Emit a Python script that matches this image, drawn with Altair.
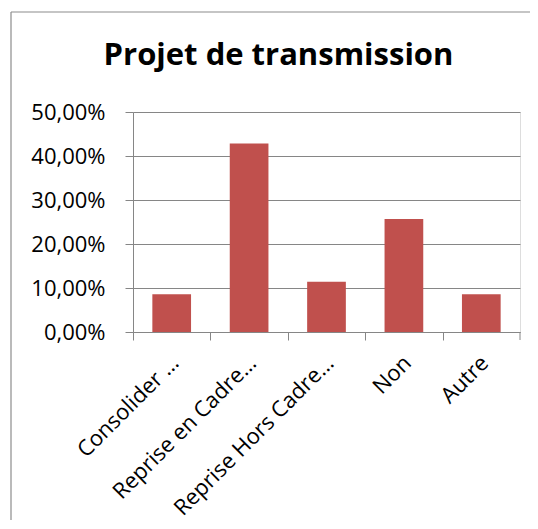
import altair as alt
import pandas as pd

categories = ["Consolider …", "Reprise en Cadre…", "Reprise Hors Cadre…", "Non", "Autre"]
values = [0.0857, 0.4286, 0.1143, 0.2571, 0.0857]
y_ticks = [0.0, 0.1, 0.2, 0.3, 0.4, 0.5]

df = pd.DataFrame({"cat": categories, "val": values})

W = 387
H = 220
STEP = W / 5
FONT = "Open Sans"
GRID = "#868686"

bars = alt.Chart(df).mark_bar(color="#C0504D").encode(
    x=alt.X(
        "cat:N",
        sort=categories,
        title=None,
        scale=alt.Scale(paddingInner=0.5, paddingOuter=0.25),
        axis=alt.Axis(
            tickOffset=-STEP / 2,
            labelOffset=STEP / 2 - 4,
            labelAngle=-45,
            labelAlign="right",
            labelBaseline="top",
            labelPadding=12,
            labelLimit=400,
            tickSize=8,
            tickColor=GRID,
            domainColor=GRID,
            labelFont=FONT,
            labelFontSize=22,
            labelColor="#000000",
            grid=False,
            labelOverlap=False,
        ),
    ),
    y=alt.Y(
        "val:Q",
        title=None,
        scale=alt.Scale(domain=[0, 0.5], nice=False),
        axis=alt.Axis(
            values=y_ticks,
            labelExpr="replace(format(datum.value, '.2%'), '.', ',')",
            tickSize=8,
            tickColor=GRID,
            domainColor=GRID,
            gridColor=GRID,
            grid=True,
            labelFont=FONT,
            labelFontSize=22,
            labelColor="#000000",
            labelPadding=20,
        ),
    ),
)

one = pd.DataFrame({"k": [0]})
end_tick = alt.Chart(one).mark_rule(color=GRID).encode(
    x=alt.value(W), y=alt.value(H), y2=alt.value(H + 8)
)
border_left = alt.Chart(one).mark_rule(color="#8c8c8c", strokeWidth=1.2).encode(
    x=alt.value(-122), y=alt.value(-100), y2=alt.value(H + 220)
)
border_top = alt.Chart(one).mark_rule(color="#8c8c8c", strokeWidth=1.2).encode(
    x=alt.value(-122), x2=alt.value(W + 40), y=alt.value(-100)
)

chart = alt.layer(bars, end_tick, border_left, border_top).properties(
    width=W,
    height=H,
    title=alt.TitleParams(
        "Projet de transmission",
        font=FONT,
        fontSize=31,
        fontWeight="bold",
        color="#000000",
        anchor="middle",
        frame="group",
        baseline="alphabetic",
        dx=-48,
        offset=-85,
    ),
    autosize=alt.AutoSizeParams(type="none"),
    padding={"left": 125, "top": 104, "right": 10, "bottom": 188},
).configure_view(stroke=None).configure(background="#ffffff")

chart.save("out.html", embed_options={"renderer": "svg", "actions": False})
